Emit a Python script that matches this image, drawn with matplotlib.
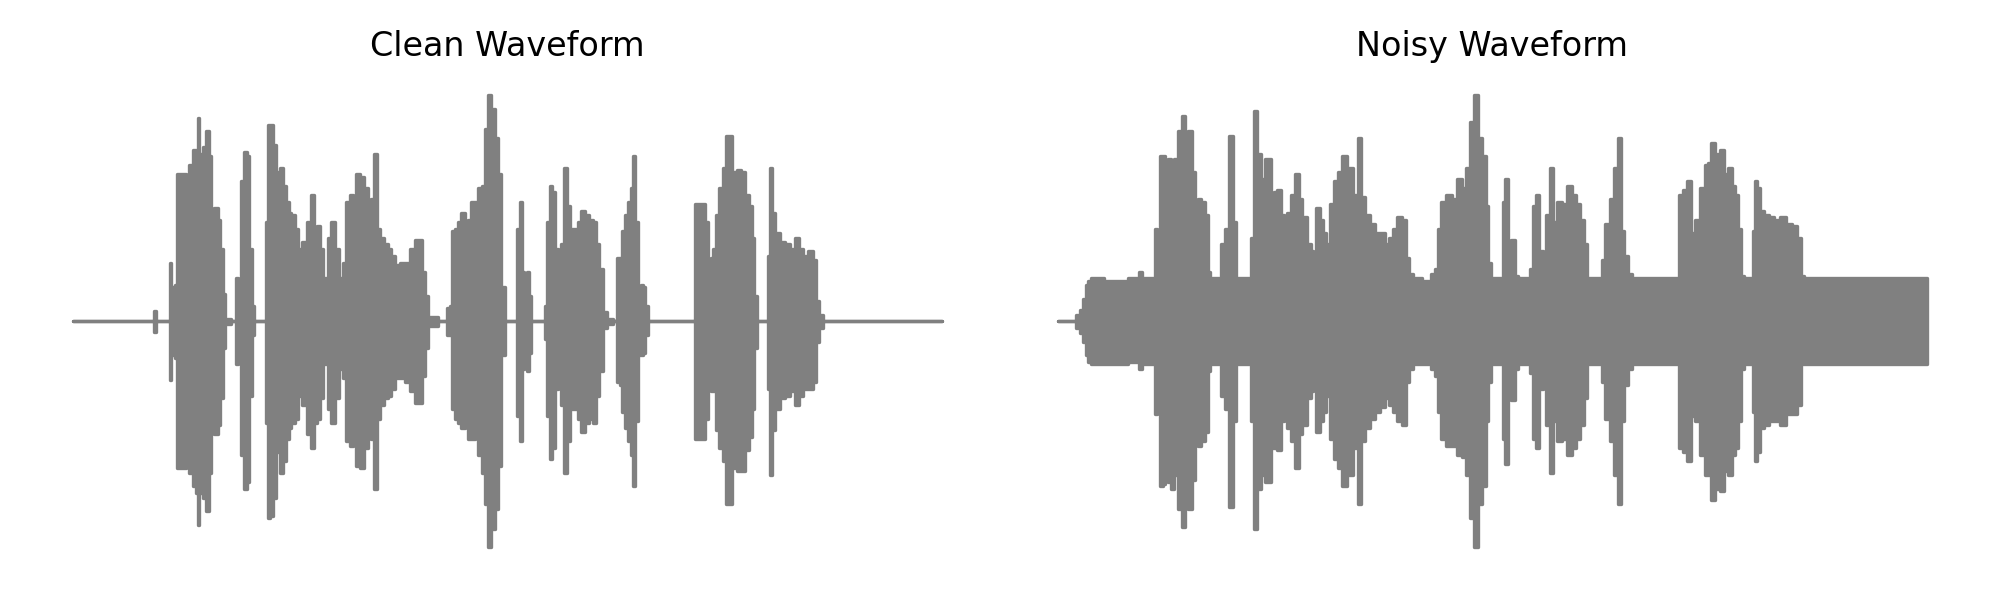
import matplotlib
matplotlib.use("Agg")
import matplotlib.pyplot as plt
import numpy as np

# Envelope of each waveform (upper / lower peak amplitude).
# time in seconds, amplitude normalised to the loudest peak

clean_t = [
    0.000, 0.280, 0.320, 0.328, 0.336, 0.384, 0.390, 0.395, 0.403, 0.411,
    0.416, 0.447, 0.454, 0.460, 0.470, 0.487, 0.496, 0.500, 0.506, 0.514,
    0.527, 0.536, 0.547, 0.558, 0.571, 0.584, 0.594, 0.603, 0.614, 0.647,
    0.654, 0.667, 0.678, 0.687, 0.700, 0.710, 0.718, 0.727, 0.767, 0.774,
    0.784, 0.794, 0.807, 0.820, 0.834, 0.847, 0.860,
    0.867, 0.880, 0.894, 0.907, 0.927, 0.944, 0.958, 0.971, 0.984, 0.995,
    1.007, 1.016, 1.024, 1.038, 1.054, 1.070, 1.087, 1.100, 1.114, 1.127,
    1.140, 1.154, 1.171, 1.187, 1.200, 1.211, 1.220, 1.234, 1.254, 1.267,
    1.280, 1.300, 1.320, 1.340, 1.360, 1.374, 1.394, 1.400, 1.414, 1.427,
    1.494, 1.500, 1.514, 1.523, 1.534, 1.547, 1.560, 1.574, 1.587, 1.600,
    1.614, 1.630, 1.640, 1.654, 1.667, 1.680, 1.694, 1.707, 1.720, 1.734,
    1.774, 1.784, 1.794, 1.803, 1.811, 1.820, 1.830, 1.840, 1.887, 1.894,
    1.904, 1.914, 1.923, 1.934, 1.947, 1.958, 1.971, 1.984, 1.998, 2.014,
    2.027, 2.040, 2.056, 2.074, 2.091, 2.100, 2.114, 2.127, 2.147, 2.174,
    2.184, 2.194, 2.203, 2.216, 2.227, 2.238, 2.247, 2.256, 2.267, 2.278,
    2.287, 2.296, 2.307, 2.387, 2.487, 2.494, 2.523, 2.534, 2.547, 2.558,
    2.567, 2.580, 2.594, 2.607, 2.620,
    2.631, 2.647, 2.667, 2.683, 2.700, 2.714, 2.723, 2.734, 2.747, 2.780,
    2.787, 2.794, 2.803, 2.820, 2.840, 2.860, 2.883, 2.900, 2.914, 2.934,
    2.954, 2.971, 2.980, 2.994, 3.014, 3.478,
]
clean_top = [
    0.0, 0.0, 0.0, 0.045, 0.0, 0.0, 0.26, 0.02, 0.15, 0.16,
    0.65, 0.65, 0.57, 0.59, 0.69, 0.76, 0.74, 0.90, 0.74, 0.72,
    0.77, 0.84, 0.73, 0.37, 0.50, 0.45, 0.32, 0.12, 0.01, 0.0,
    0.19, 0.16, 0.62, 0.75, 0.73, 0.32, 0.07, 0.0, 0.0, 0.44,
    0.87, 0.87, 0.78, 0.66, 0.68, 0.60, 0.53,
    0.48, 0.47, 0.41, 0.32, 0.35, 0.44, 0.56, 0.41, 0.42, 0.32,
    0.19, 0.09, 0.37, 0.44, 0.32, 0.19, 0.26, 0.53, 0.56, 0.53,
    0.65, 0.64, 0.59, 0.45, 0.54, 0.74, 0.41, 0.37, 0.34, 0.32,
    0.29, 0.25, 0.26, 0.26, 0.32, 0.36, 0.36, 0.22, 0.11, 0.02,
    0.0, 0.06, 0.07, 0.40, 0.41, 0.44, 0.48, 0.44, 0.45, 0.53,
    0.53, 0.59, 0.60, 0.85, 1.0, 0.94, 0.81, 0.65, 0.15, 0.0,
    0.0, 0.41, 0.53, 0.22, 0.20, 0.22, 0.11, 0.0, 0.0, 0.07,
    0.44, 0.60, 0.57, 0.32, 0.13, 0.34, 0.68, 0.51, 0.41, 0.41,
    0.44, 0.49, 0.47, 0.45, 0.44, 0.34, 0.23, 0.04, 0.01, 0.0,
    0.28, 0.28, 0.40, 0.47, 0.53, 0.59, 0.73, 0.44, 0.15, 0.16,
    0.15, 0.07, 0.0, 0.0, 0.0, 0.52, 0.52, 0.44, 0.20, 0.28,
    0.32, 0.47, 0.59, 0.68, 0.82,
    0.82, 0.66, 0.67, 0.66, 0.56, 0.51, 0.37, 0.11, 0.0, 0.0,
    0.29, 0.68, 0.48, 0.39, 0.35, 0.34, 0.32, 0.37, 0.32, 0.29,
    0.31, 0.27, 0.09, 0.03, 0.0, 0.0,
]
clean_bottom = [
    0.0, 0.0, 0.0, -0.045, 0.0, 0.0, -0.26, -0.02, -0.15, -0.16,
    -0.65, -0.65, -0.62, -0.58, -0.67, -0.73, -0.76, -0.90, -0.76, -0.74,
    -0.78, -0.84, -0.67, -0.33, -0.50, -0.46, -0.34, -0.12, -0.01, 0.0,
    -0.19, -0.18, -0.59, -0.74, -0.71, -0.33, -0.06, 0.0, 0.0, -0.45,
    -0.87, -0.86, -0.78, -0.58, -0.67, -0.62, -0.52,
    -0.47, -0.45, -0.43, -0.33, -0.37, -0.50, -0.56, -0.45, -0.43, -0.34,
    -0.19, -0.09, -0.39, -0.45, -0.34, -0.21, -0.25, -0.53, -0.55, -0.53,
    -0.64, -0.65, -0.56, -0.46, -0.52, -0.74, -0.43, -0.37, -0.34, -0.33,
    -0.30, -0.25, -0.25, -0.27, -0.31, -0.36, -0.36, -0.24, -0.12, -0.02,
    0.0, -0.06, -0.06, -0.39, -0.43, -0.45, -0.47, -0.46, -0.52, -0.52,
    -0.49, -0.59, -0.67, -0.81, -1.0, -0.92, -0.83, -0.64, -0.15, 0.0,
    0.0, -0.42, -0.53, -0.21, -0.19, -0.22, -0.14, 0.0, 0.0, -0.08,
    -0.42, -0.61, -0.56, -0.30, -0.12, -0.37, -0.67, -0.53, -0.39, -0.39,
    -0.43, -0.49, -0.45, -0.43, -0.45, -0.33, -0.22, -0.03, -0.01, 0.0,
    -0.27, -0.28, -0.40, -0.47, -0.53, -0.59, -0.73, -0.44, -0.15, -0.15,
    -0.14, -0.06, 0.0, 0.0, 0.0, -0.52, -0.52, -0.43, -0.18, -0.31,
    -0.31, -0.48, -0.56, -0.62, -0.81,
    -0.81, -0.65, -0.66, -0.66, -0.57, -0.51, -0.39, -0.12, 0.0, 0.0,
    -0.30, -0.68, -0.48, -0.39, -0.34, -0.33, -0.31, -0.37, -0.33, -0.30,
    -0.30, -0.27, -0.09, -0.03, 0.0, 0.0,
]

noisy_t = [
    0.000, 0.060, 0.080, 0.094, 0.107, 0.114, 0.124, 0.134, 0.234, 0.320,
    0.330, 0.338, 0.383, 0.391, 0.396, 0.404, 0.414, 0.423, 0.434, 0.444,
    0.458, 0.471, 0.487, 0.500, 0.514, 0.527, 0.540, 0.554, 0.567, 0.580,
    0.594, 0.604, 0.614, 0.647, 0.658, 0.674, 0.694, 0.707, 0.720, 0.767,
    0.778, 0.791, 0.804, 0.820, 0.834,
    0.847, 0.860, 0.871, 0.884, 0.898, 0.911, 0.924, 0.938, 0.956, 0.970,
    0.980, 0.991, 1.004, 1.018, 1.027, 1.040, 1.054, 1.067, 1.080, 1.094,
    1.114, 1.130, 1.147, 1.167, 1.191, 1.207, 1.220, 1.240, 1.260, 1.280,
    1.300, 1.316, 1.334, 1.351, 1.367, 1.387, 1.400, 1.414, 1.427, 1.487,
    1.503, 1.514, 1.527, 1.543, 1.567, 1.587, 1.607, 1.627, 1.644, 1.658,
    1.676, 1.690, 1.707, 1.720, 1.727,
    1.740, 1.780, 1.787, 1.796, 1.807, 1.823, 1.834, 1.847, 1.887, 1.894,
    1.907, 1.920, 1.934, 1.947, 1.964, 1.975, 1.987, 2.007, 2.027, 2.047,
    2.067, 2.084, 2.100, 2.114, 2.127, 2.174, 2.180, 2.200, 2.220, 2.236,
    2.247, 2.260, 2.276, 2.294, 2.307, 2.394, 2.480, 2.494, 2.514, 2.527,
    2.543, 2.560, 2.580, 2.600,
    2.607, 2.627, 2.640, 2.660, 2.676, 2.694, 2.707, 2.720, 2.730, 2.740,
    2.754, 2.780, 2.787, 2.794, 2.807, 2.820, 2.840, 2.860, 2.880, 2.903,
    2.927, 2.951, 2.970, 2.983, 2.994, 3.140, 3.274, 3.480,
]
noisy_top = [
    0.0, 0.0, 0.03, 0.05, 0.10, 0.16, 0.18, 0.19, 0.18, 0.19,
    0.22, 0.19, 0.19, 0.41, 0.19, 0.26, 0.73, 0.73, 0.69, 0.72,
    0.71, 0.72, 0.84, 0.91, 0.79, 0.84, 0.66, 0.29, 0.54, 0.53,
    0.47, 0.22, 0.19, 0.19, 0.34, 0.41, 0.82, 0.44, 0.19, 0.19,
    0.37, 0.93, 0.74, 0.63, 0.72,
    0.72, 0.56, 0.57, 0.58, 0.47, 0.42, 0.48, 0.56, 0.65, 0.54,
    0.34, 0.46, 0.34, 0.31, 0.23, 0.50, 0.45, 0.39, 0.34, 0.52,
    0.62, 0.66, 0.73, 0.68, 0.56, 0.81, 0.55, 0.47, 0.43, 0.39,
    0.39, 0.34, 0.37, 0.41, 0.46, 0.45, 0.28, 0.21, 0.19, 0.18,
    0.21, 0.23, 0.41, 0.53, 0.56, 0.54, 0.63, 0.59, 0.68, 0.88,
    1.0, 0.81, 0.73, 0.51, 0.26,
    0.19, 0.19, 0.53, 0.63, 0.34, 0.36, 0.20, 0.19, 0.19, 0.23,
    0.51, 0.56, 0.31, 0.26, 0.47, 0.68, 0.44, 0.53, 0.52, 0.60,
    0.56, 0.52, 0.45, 0.34, 0.19, 0.19, 0.27, 0.43, 0.54, 0.68,
    0.81, 0.40, 0.29, 0.21, 0.19, 0.19, 0.19, 0.56, 0.58, 0.62,
    0.39, 0.45, 0.59, 0.69,
    0.70, 0.79, 0.74, 0.76, 0.65, 0.68, 0.60, 0.56, 0.41, 0.20,
    0.19, 0.19, 0.40, 0.62, 0.59, 0.49, 0.47, 0.46, 0.45, 0.46,
    0.43, 0.42, 0.37, 0.20, 0.19, 0.19, 0.19, 0.19,
]
noisy_bottom = [
    0.0, 0.0, -0.03, -0.05, -0.09, -0.15, -0.18, -0.19, -0.19, -0.18,
    -0.21, -0.19, -0.19, -0.41, -0.19, -0.27, -0.73, -0.72, -0.70, -0.71,
    -0.74, -0.68, -0.83, -0.91, -0.79, -0.83, -0.70, -0.30, -0.55, -0.53,
    -0.49, -0.22, -0.19, -0.19, -0.33, -0.39, -0.82, -0.44, -0.19, -0.19,
    -0.44, -0.92, -0.74, -0.68, -0.71,
    -0.71, -0.56, -0.56, -0.57, -0.44, -0.43, -0.47, -0.53, -0.65, -0.50,
    -0.31, -0.46, -0.34, -0.31, -0.24, -0.49, -0.44, -0.40, -0.33, -0.52,
    -0.61, -0.65, -0.73, -0.68, -0.56, -0.81, -0.53, -0.47, -0.43, -0.40,
    -0.38, -0.34, -0.37, -0.40, -0.44, -0.46, -0.27, -0.21, -0.19, -0.19,
    -0.21, -0.24, -0.40, -0.52, -0.55, -0.55, -0.59, -0.60, -0.68, -0.87,
    -1.0, -0.81, -0.73, -0.44, -0.27,
    -0.19, -0.19, -0.52, -0.63, -0.33, -0.35, -0.21, -0.19, -0.19, -0.23,
    -0.52, -0.56, -0.30, -0.27, -0.46, -0.67, -0.44, -0.53, -0.52, -0.59,
    -0.56, -0.52, -0.46, -0.34, -0.19, -0.19, -0.27, -0.43, -0.53, -0.68,
    -0.81, -0.44, -0.28, -0.21, -0.19, -0.19, -0.19, -0.56, -0.58, -0.62,
    -0.42, -0.44, -0.59, -0.68,
    -0.68, -0.79, -0.74, -0.75, -0.66, -0.68, -0.59, -0.56, -0.44, -0.21,
    -0.19, -0.19, -0.40, -0.62, -0.58, -0.47, -0.46, -0.44, -0.44, -0.46,
    -0.41, -0.41, -0.37, -0.19, -0.19, -0.19, -0.19, -0.19,
]

titles = ["Clean Waveform", "Noisy Waveform"]

fig, axes = plt.subplots(1, 2, figsize=(10, 3), dpi=200)

panels = [(clean_t, clean_top, clean_bottom), (noisy_t, noisy_top, noisy_bottom)]
for ax, (t, top, bottom), title in zip(axes, panels, titles):
    # step fill keeps the steep, blocky look of a dense waveform
    ax.fill_between(t, bottom, top, step="mid", color="gray", edgecolor="gray",
                    linewidth=1.2, joinstyle="round", capstyle="round")
    ax.set_title(title)
    ax.axis("off")

plt.tight_layout()
plt.savefig("out.png", dpi=200)
